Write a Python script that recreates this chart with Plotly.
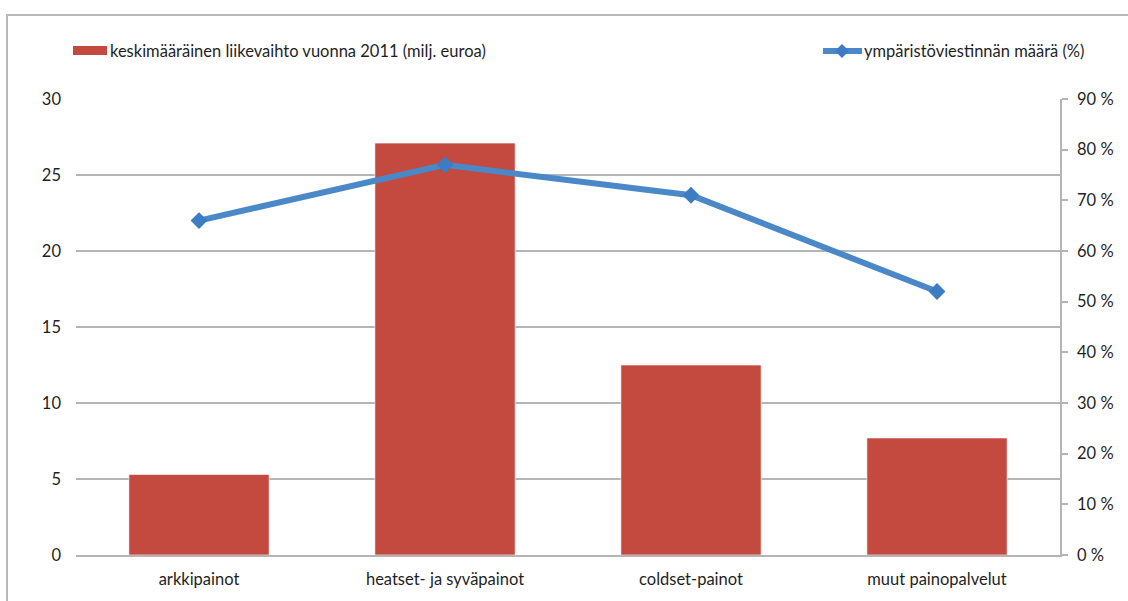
import plotly.graph_objects as go

# Categories and series
categories = ["arkkipainot", "heatset- ja syväpainot", "coldset-painot", "muut painopalvelut"]
turnover = [5.3, 27.1, 12.5, 7.7]          # keskimääräinen liikevaihto 2011, milj. euroa
env_share = [66, 77, 71, 52]               # ympäristöviestinnän määrä, %

bar_name = "keskimääräinen liikevaihto vuonna 2011 (milj. euroa)"
line_name = "ympäristöviestinnän määrä (%)"

FONT = "Lato, 'Open Sans', sans-serif"
FS = 16.5
TXT = "#1f1f1f"
GRID = "#b5b5b5"
BAR = "#c4493f"
LINE = "#4a88c8"
MARK = "#3b7cc2"

fig = go.Figure()

fig.add_trace(go.Bar(
    x=categories, y=turnover, name=bar_name,
    marker=dict(color=BAR, line=dict(color="rgba(255,255,255,0.6)", width=1)),
    width=0.57, showlegend=False, yaxis="y",
))

fig.add_trace(go.Scatter(
    x=categories, y=env_share, name=line_name, mode="lines+markers",
    line=dict(color=LINE, width=6),
    marker=dict(symbol="diamond", size=13, color=MARK),
    showlegend=False, yaxis="y2",
))

fig.update_layout(
    width=1128, height=601,
    margin=dict(l=76, r=68, t=99, b=46),
    paper_bgcolor="white", plot_bgcolor="white",
    font=dict(family=FONT, size=FS, color=TXT),
    xaxis=dict(
        type="category", showline=True, linecolor=GRID, linewidth=1.5,
        ticks="", showgrid=False, ticklabelstandoff=8,
        tickfont=dict(size=FS, color=TXT),
    ),
    yaxis=dict(
        range=[0, 30], dtick=5, showgrid=True, gridcolor=GRID, gridwidth=1.5,
        zeroline=False, showline=False, ticks="", ticklabelstandoff=14,
        tickfont=dict(size=FS, color=TXT),
    ),
    yaxis2=dict(
        range=[0, 90], dtick=10, overlaying="y", side="right",
        showgrid=False, zeroline=False, showline=True, linecolor=GRID, linewidth=1.5,
        ticks="outside", ticklen=6, tickcolor=GRID, tickwidth=1.5,
        ticksuffix=" %", ticklabelstandoff=6,
        tickfont=dict(size=FS, color=TXT),
    ),
)

# Outer frame of the chart object (extends past the right and bottom edges)
fig.add_shape(
    type="rect", xref="paper", yref="paper",
    xsizemode="pixel", ysizemode="pixel", xanchor=0, yanchor=1,
    x0=-69, x1=1100, y0=84, y1=-560,
    line=dict(color="#b9b9b9", width=2), fillcolor="rgba(0,0,0,0)", layer="below",
)

# Legend: bar swatch + label on the left
fig.add_shape(
    type="rect", xref="paper", yref="paper",
    xsizemode="pixel", ysizemode="pixel", xanchor=0, yanchor=1,
    x0=-3, x1=31, y0=44, y1=53,
    line=dict(width=0), fillcolor=BAR,
)
fig.add_annotation(
    text=bar_name, xref="paper", yref="paper", x=0, y=1, xanchor="left", yanchor="middle",
    xshift=32, yshift=48, showarrow=False, font=dict(family=FONT, size=FS, color=TXT),
)

# Legend: line swatch with diamond + label on the right
fig.add_shape(
    type="line", xref="paper", yref="paper",
    xsizemode="pixel", ysizemode="pixel", xanchor=1, yanchor=1,
    x0=-237, x1=-198, y0=48, y1=48,
    line=dict(color=LINE, width=6),
)
fig.add_shape(
    type="path", xref="paper", yref="paper",
    xsizemode="pixel", ysizemode="pixel", xanchor=1, yanchor=1,
    path="M-218,55 L-211,48 L-218,41 L-225,48 Z",
    line=dict(width=0), fillcolor=MARK,
)
fig.add_annotation(
    text=line_name, xref="paper", yref="paper", x=1, y=1, xanchor="left", yanchor="middle",
    xshift=-198, yshift=48, showarrow=False, font=dict(family=FONT, size=FS, color=TXT),
)

fig.write_html("out.html")
